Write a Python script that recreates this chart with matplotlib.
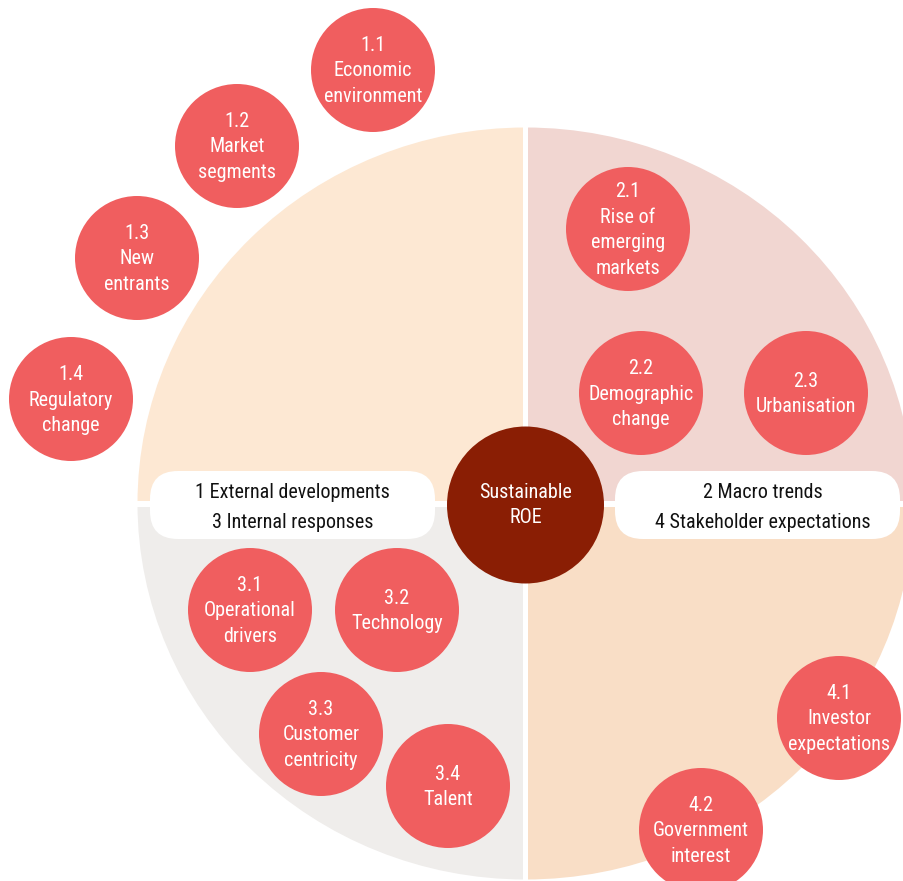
import matplotlib
matplotlib.use("Agg")
import matplotlib.pyplot as plt
from matplotlib.patches import Circle, Ellipse, Rectangle, FancyBboxPatch

plt.rcParams['font.family'] = ['Roboto Condensed', 'Liberation Sans', 'DejaVu Sans']

# driver circles: code, name, centre (pixel coords)
codes = ["1.1", "1.2", "1.3", "1.4", "2.1", "2.2", "2.3",
         "3.1", "3.2", "3.3", "3.4", "4.1", "4.2"]
names = ["Economic\nenvironment", "Market\nsegments", "New\nentrants", "Regulatory\nchange",
         "Rise of\nemerging\nmarkets", "Demographic\nchange", "Urbanisation",
         "Operational\ndrivers", "Technology", "Customer\ncentricity", "Talent",
         "Investor\nexpectations", "Government\ninterest"]
cx = [373, 237, 137, 71, 628, 641, 806, 250, 397, 321, 448, 839, 701]
cy = [70, 146, 258, 399, 229, 393, 393, 610, 610, 734, 786, 718, 830]

left_labels = ["1 External developments", "3 Internal responses"]
right_labels = ["2 Macro trends", "4 Stakeholder expectations"]
centre_label = "Sustainable\nROE"

quad_colors = ["#fde8d3", "#f1d6d1", "#efedeb", "#f9dec6"]
circle_color = "#f05e5f"
centre_color = "#8a1e04"
fs = 14.5

W, H = 904, 881
fig = plt.figure(figsize=(W / 100, H / 100), dpi=100)
ax = fig.add_axes([0, 0, 1, 1])
ax.set_xlim(0, W)
ax.set_ylim(H, 0)
ax.axis('off')

# big circle split into four quadrants with white gaps
ox, oy = 525.5, 503.5
clips = [(0, 0, 523, 500.5), (528.5, 0, W, 500.5),
         (0, 506.5, 523, H), (528.5, 506.5, W, H)]
for col, (x0, y0, x1, y1) in zip(quad_colors, clips):
    e = Ellipse((ox, oy), 2 * 388, 2 * 376, facecolor=col, edgecolor='none', zorder=1)
    ax.add_patch(e)
    r = Rectangle((x0, y0), x1 - x0, y1 - y0, transform=ax.transData)
    e.set_clip_path(r)

# label boxes
for bx, labels, tx in [(150, left_labels, 292.5), (615, right_labels, 763)]:
    ax.add_patch(FancyBboxPatch((bx, 471), 285, 68,
                                boxstyle="round,pad=0,rounding_size=28",
                                facecolor='white', edgecolor='none', zorder=2))
    ax.text(tx, 492, labels[0], ha='center', va='center', fontsize=fs, color='#111111', zorder=3)
    ax.text(tx, 522, labels[1], ha='center', va='center', fontsize=fs, color='#111111', zorder=3)

# centre
ax.add_patch(Circle((ox, 505), 78.5, facecolor=centre_color, edgecolor='none', zorder=3))
ax.text(ox, 505, centre_label, ha='center', va='center', fontsize=fs, color='white',
        linespacing=1.45, zorder=4)

# driver circles
for code, name, x, y in zip(codes, names, cx, cy):
    ax.add_patch(Circle((x, y), 62, facecolor=circle_color, edgecolor='none', zorder=3))
    ax.text(x, y + 1, code + "\n" + name, ha='center', va='center', fontsize=fs,
            color='white', linespacing=1.45, zorder=4)

fig.savefig("out.png", dpi=100)
